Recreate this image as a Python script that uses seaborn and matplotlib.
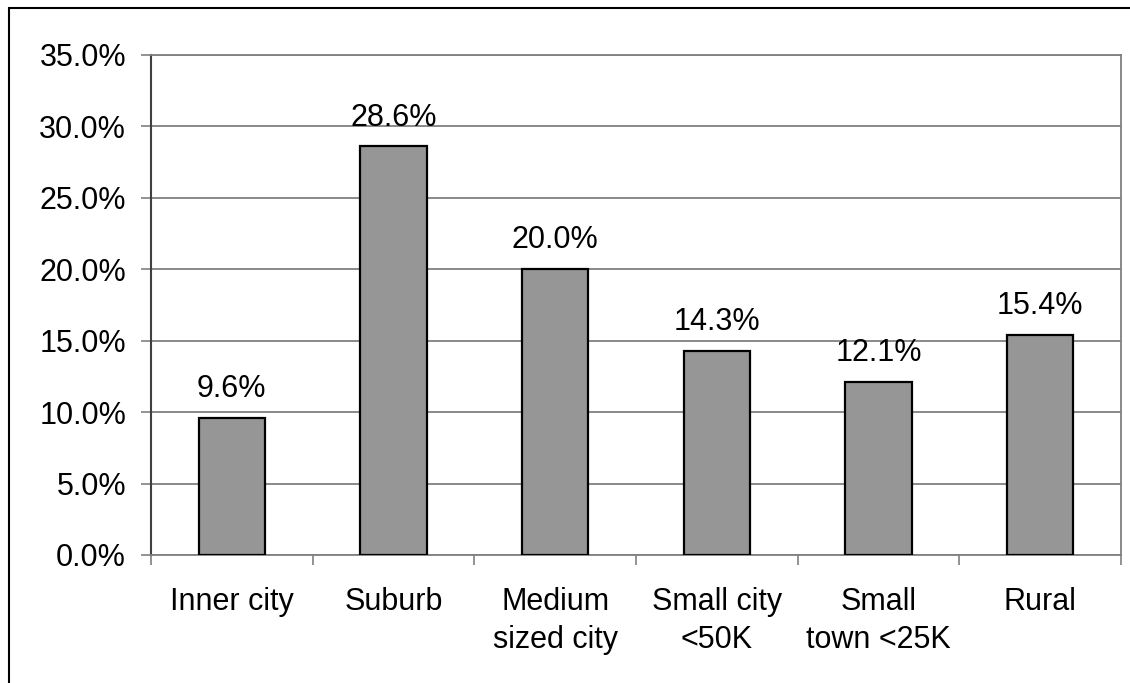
import matplotlib
matplotlib.use("Agg")
import matplotlib.pyplot as plt
import seaborn as sns
import pandas as pd
from matplotlib.patches import Rectangle
from matplotlib.ticker import FixedLocator, FuncFormatter

categories = ["Inner city", "Suburb", "Medium\nsized city", "Small city\n<50K", "Small\ntown <25K", "Rural"]
values = [9.6, 28.6, 20.0, 14.3, 12.1, 15.4]
y_ticks = [0, 5, 10, 15, 20, 25, 30, 35]

sns.set_theme(style="white")
plt.rcParams['font.family'] = ['Liberation Sans', 'DejaVu Sans']

W, H = 1130, 683
FS = 22
fig = plt.figure(figsize=(W / 100, H / 100), dpi=100)
ax = fig.add_axes([151 / W, 1 - 555 / H, (1121 - 151) / W, (555 - 55) / H])

df = pd.DataFrame({"cat": categories, "val": values})
sns.barplot(data=df, x="cat", y="val", ax=ax, color="#969696", width=0.41,
            edgecolor="black", linewidth=1.6, saturation=1)
for p in ax.patches:
    p.set_facecolor("#969696")
    p.set_zorder(3)

ax.set_ylim(0, 35)
ax.set_xlim(-0.5, len(categories) - 0.5)
ax.set_yticks(y_ticks)
ax.yaxis.set_major_formatter(FuncFormatter(lambda v, _: f"{v:.1f}%"))
ax.yaxis.grid(True, color="#808080", linewidth=1.3, zorder=0)
ax.set_axisbelow(True)
ax.set_xlabel("")
ax.set_ylabel("")

ax.tick_params(axis="y", which="major", direction="out", length=7, width=1.2,
               color="#808080", labelsize=FS, pad=11, left=True)
ax.tick_params(axis="x", which="major", length=0, labelsize=FS, pad=23)
ax.xaxis.set_minor_locator(FixedLocator([i - 0.5 for i in range(len(categories) + 1)]))
ax.tick_params(axis="x", which="minor", direction="out", length=7, width=1.2,
               color="#808080", bottom=True)
for lbl in ax.get_xticklabels():
    lbl.set_linespacing(1.35)
    lbl.set_color("black")
for lbl in ax.get_yticklabels():
    lbl.set_color("black")

for s in ["top", "right", "bottom"]:
    ax.spines[s].set_color("#808080")
    ax.spines[s].set_linewidth(1.3)
ax.spines["left"].set_color("#404040")
ax.spines["left"].set_linewidth(1.5)

for i, v in enumerate(values):
    ax.annotate(f"{v:.1f}%", (i, v), xytext=(0, 10), textcoords="offset points",
                ha="center", va="bottom", fontsize=FS, color="black")

fig.patches.append(Rectangle((8.5 / W, -0.1), 1.2, 1 - 8.5 / H + 0.1,
                             transform=fig.transFigure, fill=False,
                             edgecolor="black", linewidth=1.5))

fig.savefig("out.png", dpi=100)
